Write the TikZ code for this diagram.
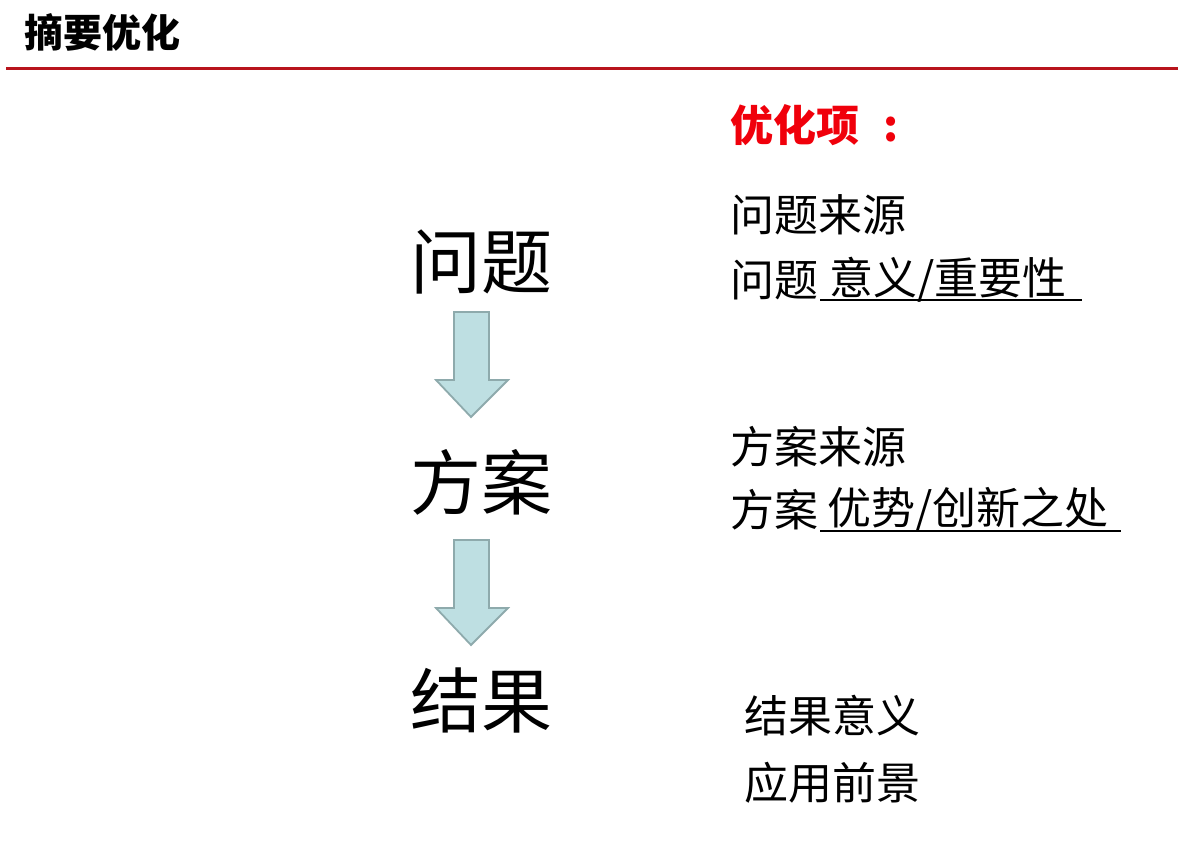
\documentclass[tikz,border=0pt]{standalone}
\usepackage{fontspec}
\setmainfont{Noto Sans CJK SC}
\newfontfamily\cjk{Noto Sans CJK SC}
\definecolor{redline}{HTML}{B8141C}
\definecolor{redtext}{HTML}{F0000B}
\definecolor{arrowfill}{HTML}{BEDFE2}
\definecolor{arrowline}{HTML}{8EAAAC}
\tikzset{
  big/.style={inner sep=0pt, font=\cjk\fontsize{71}{71}\selectfont},
  item/.style={inner sep=0pt, anchor=west, font=\cjk\fontsize{44}{44}\selectfont},
  blockarrow/.style={fill=arrowfill, draw=arrowline, line width=1.8pt, line join=miter},
}
\begin{document}
\begin{tikzpicture}[x=1pt,y=-1pt]
\useasboundingbox (0,0) rectangle (1178,855);
\node[inner sep=0pt, anchor=west, font=\cjk\bfseries\fontsize{39}{39}\selectfont] (title) at (24,32) {摘要优化};
\coordinate (rl) at (6,68);
\coordinate (rr) at (1178,68);
\draw[redline, line width=3pt] (rl) -- (rr);

\node[item, text=redtext, font=\cjk\bfseries\fontsize{43}{43}\selectfont] (opt) at (730,125) {优化项\hspace{24pt}:};

\node[big] (q) at (481,262) {问题};
\node[big] (f) at (481,482) {方案};
\node[big] (r) at (481,700) {结果};

\draw[blockarrow] (454,312) -- (489,312) -- (489,380) -- (508,380) -- (471,417) -- (436,380) -- (454,380) -- cycle;
\draw[blockarrow] (454,540) -- (489,540) -- (489,608) -- (508,608) -- (471,645) -- (436,608) -- (454,608) -- cycle;

\node[item] (q1) at (730,215) {问题来源};
\node[item] (q2) at (730,280) {问题};
\node[item] (q3) at (829,280) {意义/重要性};
\coordinate (q3a) at (820,300);
\coordinate (q3b) at (1082,300);
\draw[line width=2.2pt] (q3a) -- (q3b);

\node[item] (f1) at (730,447) {方案来源};
\node[item] (f2) at (730,510) {方案};
\node[item] (f3) at (827,510) {优势/创新之处};
\coordinate (f3a) at (820,531);
\coordinate (f3b) at (1121,531);
\draw[line width=2.2pt] (f3a) -- (f3b);

\node[item] (r1) at (744,716) {结果意义};
\node[item] (r2) at (744,783) {应用前景};
\end{tikzpicture}
\end{document}
